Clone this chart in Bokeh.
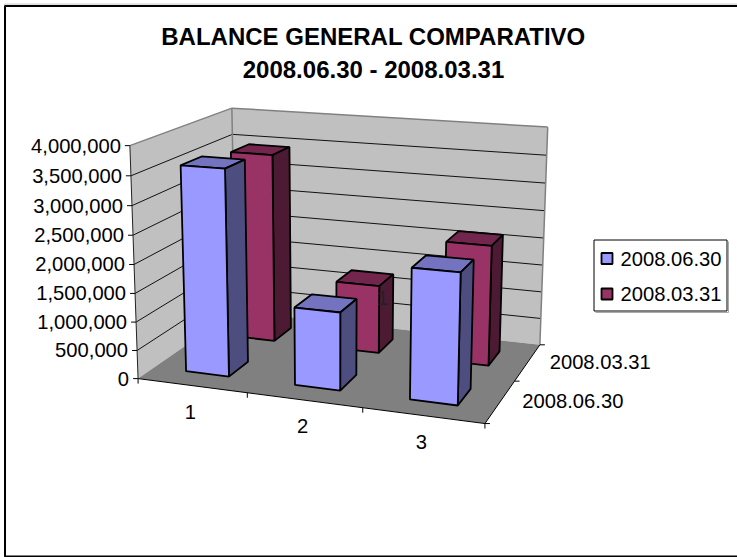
import numpy as np
from bokeh.plotting import figure
from bokeh.embed import file_html
from bokeh.resources import INLINE
from bokeh.core.properties import value

title_lines = ["BALANCE GENERAL COMPARATIVO", "2008.06.30 - 2008.03.31"]
categories = ["1", "2", "3"]
series_names = ["2008.06.30", "2008.03.31"]
s_front = [3600000, 1350000, 2220000]
s_back = [3455000, 1240000, 2150000]
y_ticks = [0, 500000, 1000000, 1500000, 2000000, 2500000, 3000000, 3500000, 4000000]
Y_MAX = 4000000

# layout: calibration of the chart's box (category, value fraction, depth) -> page pixels
calib = [((0,0,0),(139.3,378)),((3,0,0),(484.3,423.3)),((3,0,2),(540,344)),((0,0,2),(233,311)),
         ((0,1,0),(127.7,145)),((0,1,2),(233.3,107.7)),((3,1,2),(546.7,126.7))]
A, b = [], []
for (X,Y,Z),(u,v) in calib:
    A.append([X,Y,Z,1,0,0,0,0,-u*X,-u*Y,-u*Z]); b.append(u)
    A.append([0,0,0,0,X,Y,Z,1,-v*X,-v*Y,-v*Z]); b.append(v)
P = np.linalg.lstsq(np.array(A,float),np.array(b,float),rcond=None)[0]
def proj(x,val,z):
    y = val/Y_MAX
    w = P[8]*x+P[9]*y+P[10]*z+1
    return (P[0]*x+P[1]*y+P[2]*z+P[3])/w, (P[4]*x+P[5]*y+P[6]*z+P[7])/w
def poly(pts):
    c=[proj(*q) for q in pts]
    return [a for a,_ in c],[d for _,d in c]

p = figure(width=737,height=557,x_range=(0,737),y_range=(557,0),toolbar_location=None,
           output_backend="svg",min_border=0,outline_line_color=None,
           background_fill_color="white",border_fill_color="white")
p.axis.visible=False
p.grid.visible=False
FONT=value("Liberation Sans")
# chart frame
p.line([738,4,4],[3.6,3.6,556],line_color="#c8c8c8",line_width=1)
p.line([738,4.5,4.5,738],[5.5,5.5,556,556],line_color="black",line_width=2)

def patch(pts,fill,line=None,lw=1):
    xs,ys=poly(pts)
    p.patch(xs,ys,fill_color=fill,line_color=line,line_width=lw)
def seg(a,b_,color="black",lw=1):
    xs,ys=poly([a,b_])
    p.line(xs,ys,line_color=color,line_width=lw)

patch([(0,0,0),(0,Y_MAX,0),(0,Y_MAX,2),(0,0,2)],"#C0C0C0")
patch([(0,0,2),(0,Y_MAX,2),(3,Y_MAX,2),(3,0,2)],"#C0C0C0")
patch([(0,0,0),(3,0,0),(3,0,2),(0,0,2)],"#808080")
for t in y_ticks[1:-1]:
    seg((0,t,0),(0,t,2),"#111111",1)
    seg((0,t,2),(3,t,2),"#111111",1)
seg((0,Y_MAX,0),(0,Y_MAX,2),"#808080",1.5)
seg((0,Y_MAX,2),(3,Y_MAX,2),"#808080",1.5)
seg((0,0,2),(0,Y_MAX,2),"#808080",1.5)
seg((3,0,2),(3,Y_MAX,2),"#808080",1.5)
seg((0,0,0),(0,Y_MAX,0),"#222222",1)
seg((0,0,0),(3,0,0),"black",1)
seg((3,0,0),(3,0,2),"black",1)

# ticks
for t in y_ticks:
    x,y=proj(0,t,0)
    p.line([x-5,x],[y,y],line_color="black",line_width=1)
for i in range(4):
    x,y=proj(i,0,0)
    p.line([x,x],[y,y+5],line_color="black",line_width=1)
for k in range(3):
    x,y=proj(3,0,k)
    p.line([x,x+5],[y,y],line_color="black",line_width=1)

# tick labels
xs=[];ys=[];tx=[]
for t in y_ticks:
    x,y=proj(0,t,0)
    xs.append(x-9);ys.append(y);tx.append(f"{t:,}")
p.text(xs,ys,text=tx,text_font=FONT,text_font_size="20.2px",text_align="right",text_baseline="middle",text_color="black")
cx=[];cy=[]
for i,c in enumerate(categories):
    x,y=proj(i+.5,0,0)
    cx.append(x-1.5);cy.append(y+26)
p.text(cx,cy,text=categories,text_font=FONT,text_font_size="20.2px",text_align="center",text_baseline="middle",text_color="black")
dx=[];dy=[]
for k in range(2):
    x,y=proj(3,0,k+.5)
    dx.append(x+22);dy.append(y)
p.text(dx,dy,text=series_names,text_font=FONT,text_font_size="20.2px",text_align="left",text_baseline="middle",text_color="black")

# bars
def bar(i,val,z0,z1,cols):
    x0,x1=i+.3,i+.7
    patch([(x0,val,z0),(x1,val,z0),(x1,val,z1),(x0,val,z1)],cols[0],"black",1.8)
    patch([(x1,0,z0),(x1,val,z0),(x1,val,z1),(x1,0,z1)],cols[1],"black",1.8)
    patch([(x0,0,z0),(x0,val,z0),(x1,val,z0),(x1,0,z0)],cols[2],"black",1.8)
back_cols=("#73264D","#4D1A33","#993366")
front_cols=("#7373BF","#4D4D80","#9999FF")
for i,v in enumerate(s_back):
    bar(i,v,1.3,1.7,back_cols)
for i,v in enumerate(s_front):
    bar(i,v,.3,.7,front_cols)

# stray depth-axis label in the reference
p.text([382],[297],text=["1"],text_font=FONT,text_font_size="20.2px",text_align="center",text_baseline="middle",text_color="#222222")

# title
p.text([373,373],[36,69],text=title_lines,text_font=FONT,text_font_style="bold",text_font_size="24px",text_align="center",text_baseline="middle",text_color="black")

# legend
p.line([595,728,728],[312,312,241],line_color="#aaaaaa",line_width=1)
p.quad(left=[593.5],right=[726.5],top=[239.5],bottom=[310.5],fill_color="white",line_color="black",line_width=1)
p.quad(left=[601,601],right=[612,612],top=[252.5,288],bottom=[263.5,299],fill_color=["#9999FF","#993366"],line_color="black",line_width=1.8)
p.text([620,620],[258,293.5],text=series_names,text_font=FONT,text_font_size="20.2px",text_align="left",text_baseline="middle",text_color="black")

open("out.html","w").write(file_html(p,INLINE))
